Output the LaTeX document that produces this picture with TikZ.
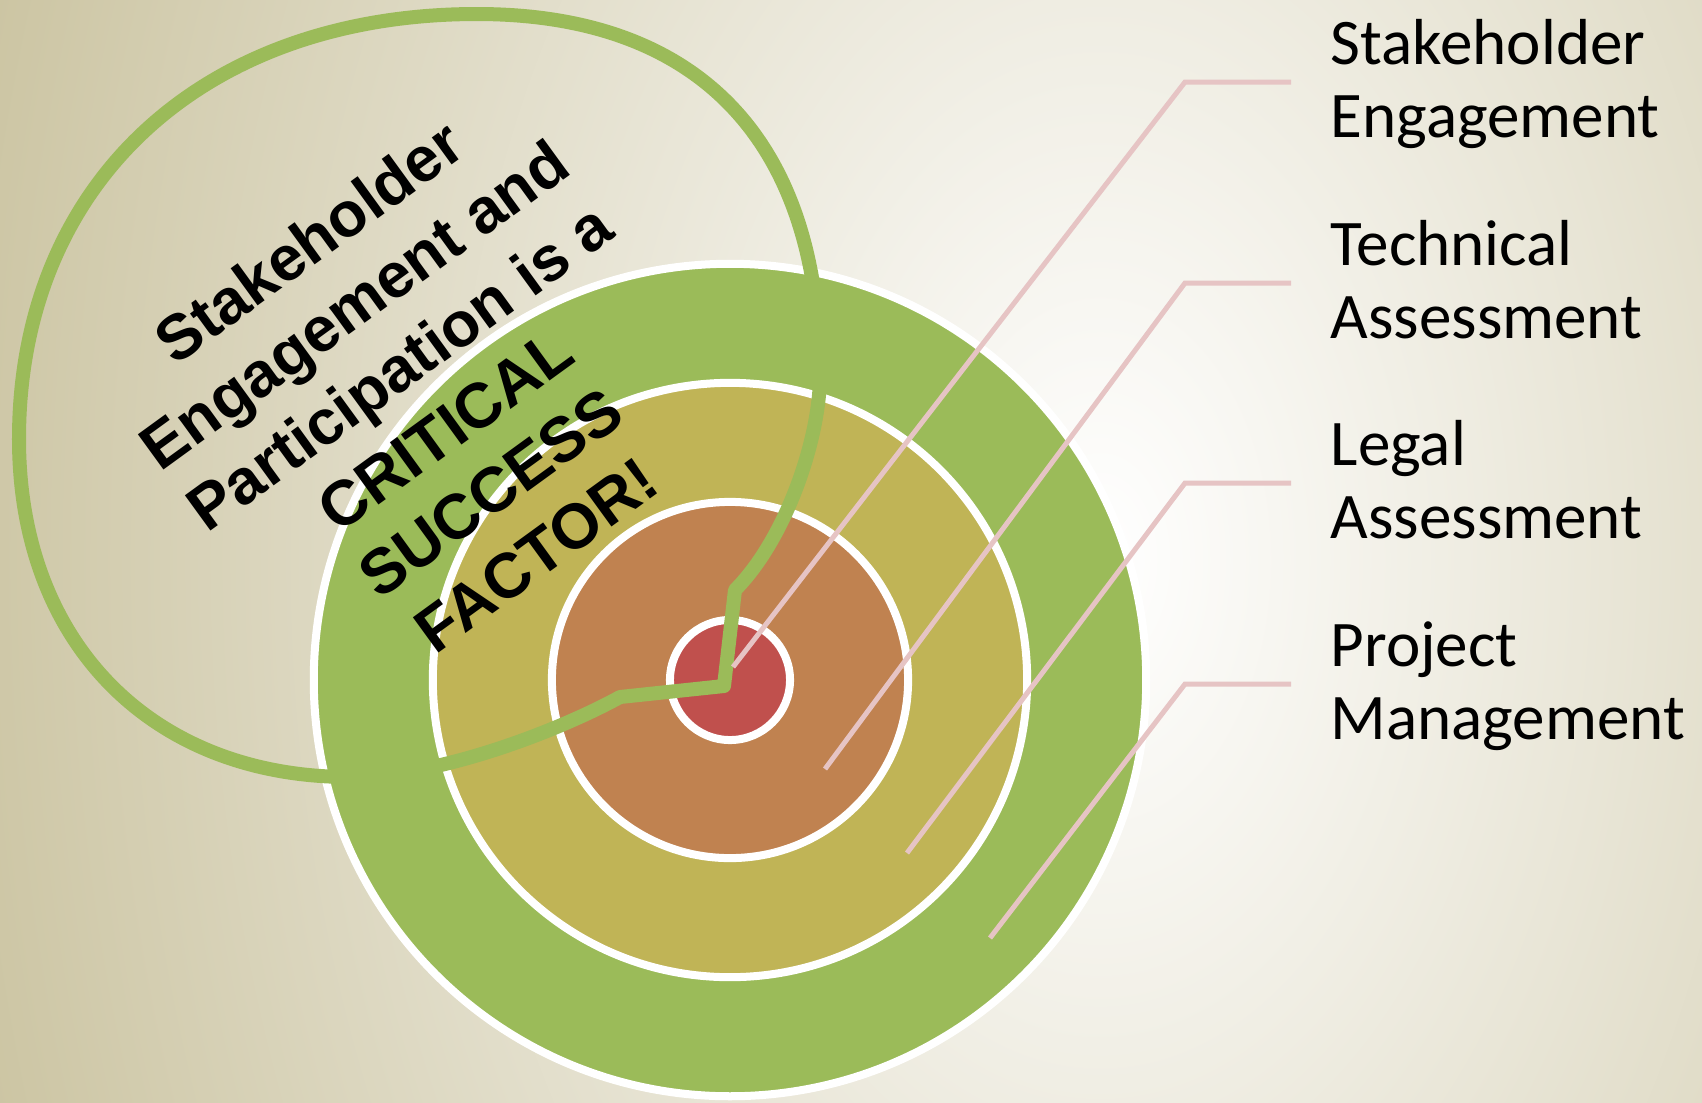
\documentclass[tikz,border=0pt]{standalone}
\usepackage{fontspec}
\setmainfont{Carlito}
\newfontfamily\calloutfont{Liberation Sans}
\usetikzlibrary{calc}
\definecolor{bgkhaki}{HTML}{C6BE98}
\definecolor{pmgreen}{HTML}{9BBB59}
\definecolor{laolive}{HTML}{C0B456}
\definecolor{taorange}{HTML}{C08250}
\definecolor{sered}{HTML}{C0504D}
\definecolor{leaderpink}{HTML}{E6C4C4}
\tikzset{
    disc/.style = {circle, draw=white, line width=0.08cm,
        inner sep=0pt, minimum size=#1},
    tagtext/.style = {anchor=west, align=left,
        inner xsep=0.39cm, inner ysep=0pt, text depth=2pt,
        font=\fontsize{18.5}{20.8}\selectfont},
    leader/.style = {draw=leaderpink, line width=0.05cm},
    hoop/.style = {draw=pmgreen, line width=0.14cm, line join=round},
    callout/.style = {align=center, inner sep=0pt,
        font=\calloutfont\bfseries\fontsize{18}{22}\selectfont}
}
\begin{document}
\begin{tikzpicture}[x=0.01cm, y=-0.01cm]
                \useasboundingbox (0,0) rectangle (1702,1102);
                \clip (0,0) rectangle (1702,1102);
                \shade[inner color=white, outer color=bgkhaki] (1100,560) ellipse [x radius=1300, y radius=2000];
                \coordinate (c) at (730,680);
                \node[disc=8.32cm, fill=pmgreen] (pm) at (c) {};
                \node[disc=5.94cm, fill=laolive] (la) at (c) {};
                \node[disc=3.56cm, fill=taorange] (ta) at (c) {};
                \node[disc=1.20cm, fill=sered] (se) at (c) {};
                \draw[hoop] (735,590) .. controls (785,540) and (820,440) .. (820,375)
                    .. controls (820,142) and (700,14) .. (477,14)
                    .. controls (202,14) and (19,184) .. (19,439)
                    .. controls (19,642) and (151,777) .. (350,777)
                    .. controls (440,777) and (560,730) .. (620,697)
                    -- (724,686) -- cycle;
                \node[tagtext] (lblse) at (1291,82) {Stakeholder\\Engagement};
                \node[tagtext] (lblta) at (1291,283) {Technical\\Assessment};
                \node[tagtext] (lblla) at (1291,483) {Legal\\Assessment};
                \node[tagtext] (lblpm) at (1291,684) {Project\\Management};
                \coordinate (tipse) at (733,667);
                \coordinate (tipta) at (825,769);
                \coordinate (tipla) at (907,853);
                \coordinate (tippm) at (990,938);
                \draw[leader] (lblse.west) -- ++(-106,0) -- (tipse);
                \draw[leader] (lblta.west) -- ++(-106,0) -- (tipta);
                \draw[leader] (lblla.west) -- ++(-106,0) -- (tipla);
                \draw[leader] (lblpm.west) -- ++(-106,0) -- (tippm);
                \node[callout, rotate=36] (msg) at (422,398) {Stakeholder\\Engagement and\\Participation is a\\CRITICAL\\SUCCESS\\FACTOR!};
\end{tikzpicture}
\end{document}
